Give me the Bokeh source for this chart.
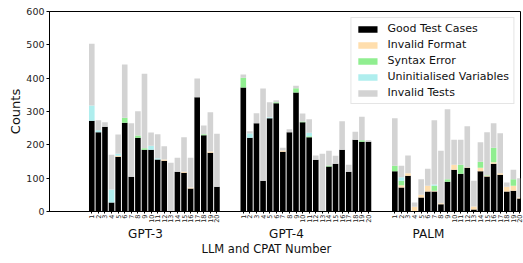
import numpy as np
from bokeh.plotting import figure
from bokeh.models import ColumnDataSource, FixedTicker, LinearAxis, Range1d
from bokeh.embed import file_html
from bokeh.resources import INLINE

# ---------------- data ----------------
llms = ["GPT-3", "GPT-4", "PALM"]
cpat_labels = [str(i) for i in range(1, 21)]
series_names = ["Good Test Cases", "Invalid Format", "Syntax Error",
                "Uninitialised Variables", "Invalid Tests"]

gpt3_good   = [272, 238, 254, 27, 164, 266, 104, 221, 185, 185, 156, 152, 0, 119, 116, 69, 343, 229, 176, 74]
gpt3_format = [0, 0, 0, 0, 3, 0, 0, 0, 0, 0, 0, 4, 0, 0, 3, 3, 0, 0, 4, 0]
gpt3_syntax = [0, 0, 0, 0, 0, 15, 0, 7, 5, 0, 0, 0, 0, 0, 0, 0, 0, 3, 0, 0]
gpt3_uninit = [46, 6, 0, 39, 6, 0, 0, 0, 0, 12, 4, 0, 0, 0, 0, 0, 0, 0, 0, 0]
gpt3_invalid = [185, 30, 14, 104, 58, 160, 161, 73, 223, 40, 72, 40, 146, 42, 104, 89, 56, 26, 118, 159]

gpt4_good   = [372, 221, 265, 92, 280, 325, 179, 238, 357, 268, 223, 155, 0, 135, 143, 185, 119, 215, 209, 209]
gpt4_format = [0, 0, 0, 0, 0, 0, 4, 0, 0, 0, 0, 0, 0, 0, 0, 0, 0, 0, 0, 0]
gpt4_syntax = [29, 0, 0, 0, 0, 3, 0, 0, 13, 2, 3, 0, 0, 3, 0, 0, 0, 0, 5, 0]
gpt4_uninit = [0, 13, 0, 0, 3, 0, 0, 0, 0, 0, 10, 0, 0, 0, 0, 0, 0, 0, 0, 0]
gpt4_invalid = [10, 7, 30, 277, 45, 6, 8, 9, 7, 24, 41, 13, 173, 44, 24, 86, 21, 24, 70, 5]

palm_good   = [121, 72, 107, 0, 42, 60, 60, 22, 89, 125, 113, 131, 6, 121, 105, 143, 110, 60, 62, 39]
palm_format = [0, 7, 8, 14, 8, 17, 2, 3, 0, 15, 0, 2, 9, 10, 2, 5, 5, 14, 15, 3]
palm_syntax = [16, 13, 0, 0, 0, 0, 15, 0, 8, 0, 27, 0, 0, 18, 2, 43, 0, 0, 20, 0]
palm_uninit = [0, 11, 0, 0, 0, 0, 4, 0, 0, 0, 0, 0, 0, 0, 0, 0, 0, 0, 0, 0]
palm_invalid = [143, 34, 53, 13, 47, 51, 193, 157, 210, 75, 75, 123, 77, 59, 129, 74, 120, 13, 28, 58]

y_ticks = [0, 100, 200, 300, 400, 500, 600]

# ---------------- layout / style ----------------
SLOTS_PER_GROUP = 23          # 20 bars + gap
BAR_WIDTH = 0.85
colors = ["#000000", "#ffdead", "#90ee90", "#afeeee", "#d3d3d3"]
FONT = "DejaVu Sans"
GROUP_LABEL_X = [8.15, 29.55, 51.1]
AXIS_TITLE_X = 26.5

groups = [
    (gpt3_good, gpt3_format, gpt3_syntax, gpt3_uninit, gpt3_invalid),
    (gpt4_good, gpt4_format, gpt4_syntax, gpt4_uninit, gpt4_invalid),
    (palm_good, palm_format, palm_syntax, palm_uninit, palm_invalid),
]

xs, cols = [], {k: [] for k in ["good", "fmt", "syn", "uni", "inv"]}
tick_overrides = {}
for g, data in enumerate(groups):
    for i, lab in enumerate(cpat_labels):
        x = g * SLOTS_PER_GROUP + i
        xs.append(x)
        tick_overrides[x] = lab
    for key, arr in zip(["good", "fmt", "syn", "uni", "inv"], data):
        cols[key].extend(arr)

src = ColumnDataSource(dict(x=xs, **cols))

p = figure(width=523, height=263, output_backend="svg", toolbar_location=None,
           x_range=Range1d(-6.42, 65.08), y_range=Range1d(0, 600),
           min_border_left=49, min_border_right=3, min_border_top=11, min_border_bottom=52)

p.vbar_stack(["good", "fmt", "syn", "uni", "inv"], x="x", width=BAR_WIDTH,
             color=colors, line_color=None, source=src, legend_label=series_names)

p.grid.visible = False
p.outline_line_color = "black"
p.outline_line_width = 1
p.background_fill_color = "white"
p.border_fill_color = "white"

# y axis
ya = p.yaxis[0]
ya.ticker = FixedTicker(ticks=y_ticks)
ya.minor_tick_line_color = None
ya.major_tick_out = 3
ya.major_tick_in = 0
ya.major_label_standoff = 2
ya.major_label_text_font = FONT
ya.major_label_text_font_size = "9.5px"
ya.major_label_text_color = "#222222"
ya.axis_line_color = "black"
ya.axis_label = "Counts"
ya.axis_label_text_font = FONT
ya.axis_label_text_font_size = "13px"
ya.axis_label_text_font_style = "normal"
ya.axis_label_text_color = "#111111"
ya.axis_label_standoff = 0

# x axis: CPAT numbers
xa = p.xaxis[0]
xa.ticker = FixedTicker(ticks=xs)
xa.major_label_overrides = tick_overrides
xa.major_label_orientation = np.pi / 2
xa.major_label_text_font = FONT
xa.major_label_text_font_size = "6.5px"
xa.major_label_text_color = "#222222"
xa.major_label_standoff = 1
xa.major_tick_out = 2
xa.major_tick_in = 0
xa.minor_tick_line_color = None
xa.axis_line_color = "black"
xa.axis_label_standoff = 0

# x axis: LLM group names
ga = LinearAxis(ticker=FixedTicker(ticks=GROUP_LABEL_X),
                major_label_overrides={x: n for x, n in zip(GROUP_LABEL_X, llms)})
ga.major_tick_out = 0
ga.major_tick_in = 0
ga.minor_tick_line_color = None
ga.major_tick_line_color = None
ga.axis_line_color = None
ga.major_label_standoff = 1
ga.axis_label_standoff = 0
ga.major_label_text_font = FONT
ga.major_label_text_font_size = "12px"
ga.major_label_text_color = "#111111"
p.add_layout(ga, "below")

# x axis title
ta = LinearAxis(ticker=FixedTicker(ticks=[AXIS_TITLE_X]),
                major_label_overrides={AXIS_TITLE_X: "LLM and CPAT Number"})
ta.major_tick_out = 0
ta.major_tick_in = 0
ta.minor_tick_line_color = None
ta.major_tick_line_color = None
ta.axis_line_color = None
ta.major_label_standoff = -2
ta.axis_label_standoff = 0
ta.major_label_text_font = FONT
ta.major_label_text_font_size = "11.5px"
ta.major_label_text_color = "#111111"
p.add_layout(ta, "below")

# legend
lg = p.legend[0]
lg.location = "top_right"
lg.margin = 6
lg.padding = 4
lg.spacing = 3
lg.label_height = 12
lg.glyph_width = 24
lg.glyph_height = 8
lg.label_standoff = 8
lg.label_text_font = FONT
lg.label_text_font_size = "11px"
lg.label_text_color = "#111111"
lg.border_line_color = "#cccccc"
lg.border_line_width = 1
lg.background_fill_alpha = 0.85

open("out.html", "w").write(file_html(p, INLINE))
